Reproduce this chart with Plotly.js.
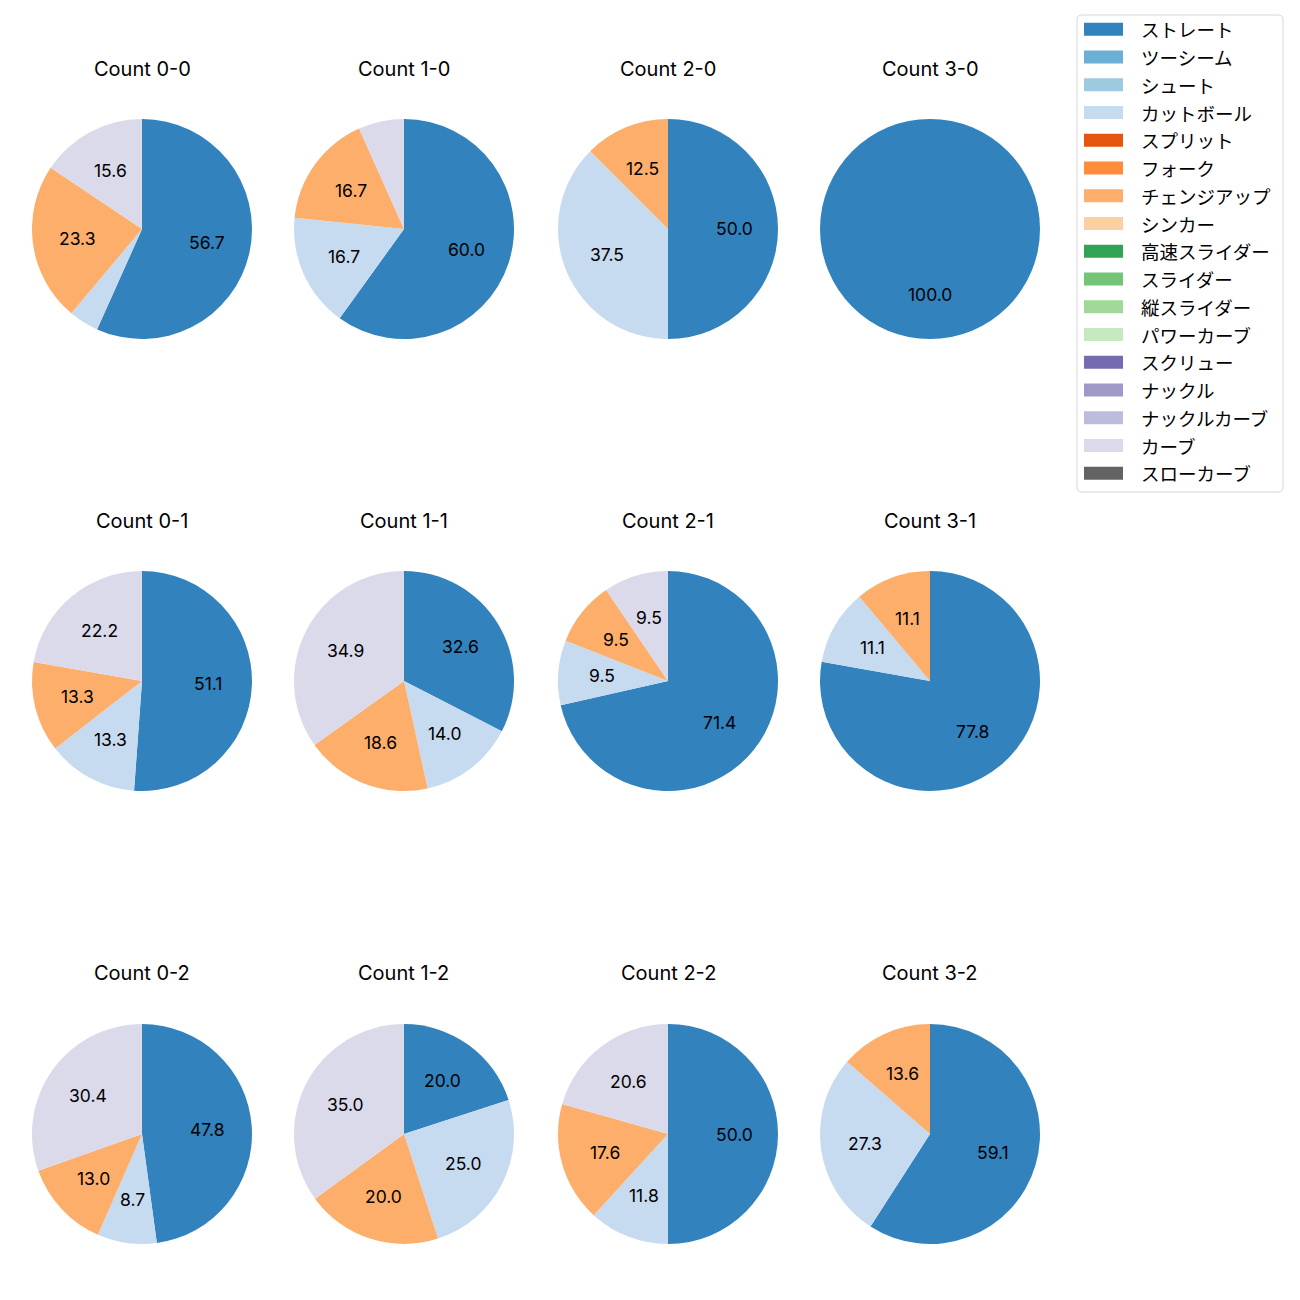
<!DOCTYPE html>
<html>
<head>
<meta charset="utf-8">
<script src="https://cdn.plot.ly/plotly-3.0.1.min.js"></script>
<style>body{margin:0;background:#fff}#chart{width:1300px;height:1300px}</style>
</head>
<body>
<div id="chart"></div>
<script>
// Pitch types (legend order) and colours
const pitchTypes = ["ストレート","ツーシーム","シュート","カットボール","スプリット","フォーク","チェンジアップ","シンカー","高速スライダー","スライダー","縦スライダー","パワーカーブ","スクリュー","ナックル","ナックルカーブ","カーブ","スローカーブ"];
const pitchColors = ["#3182bd","#6baed6","#9ecae1","#c6dbef","#e6550d","#fd8d3c","#fdae6b","#fdd0a2","#31a354","#74c476","#a1d99b","#c7e9c0","#756bb1","#9e9ac8","#bcbddc","#dadaeb","#636363"];

// Counts (row-major: balls-strikes)
const counts = ["0-0","1-0","2-0","3-0","0-1","1-1","2-1","3-1","0-2","1-2","2-2","3-2"];

// Percentages per count (same order as counts)
const straight = [56.7, 60.0, 50.0, 100.0, 51.1, 32.6, 71.4, 77.8, 47.8, 20.0, 50.0, 59.1];
const cutball  = [4.4, 16.7, 37.5, 0, 13.3, 14.0, 9.5, 11.1, 8.7, 25.0, 11.8, 27.3];
const changeup = [23.3, 16.7, 12.5, 0, 13.3, 18.6, 9.5, 11.1, 13.0, 20.0, 17.6, 13.6];
const curve    = [15.6, 6.7, 0, 0, 22.2, 34.9, 9.5, 0, 30.4, 35.0, 20.6, 0];

const W = 1300, H = 1300;
const colCenters = [142, 404, 668, 930];
const rowCenters = [229, 681, 1134];
const R = 110;
const LATIN = 'Inter, "Noto Sans CJK JP", sans-serif';
const JP = '"Noto Sans CJK JP", sans-serif';

const seriesByType = {"ストレート": straight, "カットボール": cutball, "チェンジアップ": changeup, "カーブ": curve};

const data = [];
const annotations = [];
const shapes = [];

counts.forEach((c, i) => {
  const cx = colCenters[i % 4], cy = rowCenters[Math.floor(i / 4)];
  const vals = pitchTypes.map(p => seriesByType[p] ? seriesByType[p][i] : 0);
  data.push({
    type: 'pie', labels: pitchTypes, values: vals, sort: false,
    direction: 'clockwise', rotation: 0,
    marker: {colors: pitchColors, line: {width: 0}},
    textinfo: 'none', showlegend: false, hoverinfo: 'label+percent',
    domain: {x: [(cx - R) / W, (cx + R) / W], y: [1 - (cy + R) / H, 1 - (cy - R) / H]}
  });
  annotations.push({
    text: 'Count ' + c, xref: 'paper', yref: 'paper', x: cx / W, y: 1 - 69 / H - Math.floor(i / 4) * 452 / H,
    xanchor: 'center', yanchor: 'middle', showarrow: false,
    font: {family: LATIN, size: 20, color: '#000'}
  });
  const total = vals.reduce((a, b) => a + b, 0);
  let cum = 0;
  vals.forEach(v => {
    if (v > 0) {
      const mid = (cum + v / 2) / total * 2 * Math.PI;
      if (v >= 8) {
        const px = cx + 0.6 * R * Math.sin(mid);
        const py = cy - 0.6 * R * Math.cos(mid);
        annotations.push({
          text: v.toFixed(1), xref: 'paper', yref: 'paper',
          x: px / W, y: 1 - py / H, xanchor: 'center', yanchor: 'middle', showarrow: false,
          font: {family: LATIN, size: 17.5, color: '#000'}
        });
      }
    }
    cum += v;
  });
});

// Legend (built from the pitch type arrays)
const LX0 = 1077, LX1 = 1283, LY0 = 15, LY1 = 492, rr = 5;
const lp = (x, y) => (x / W) + ',' + (1 - y / H);
shapes.push({
  type: 'path', xref: 'paper', yref: 'paper',
  path: 'M' + lp(LX0 + rr, LY0) + ' L' + lp(LX1 - rr, LY0) + ' Q' + lp(LX1, LY0) + ' ' + lp(LX1, LY0 + rr) +
        ' L' + lp(LX1, LY1 - rr) + ' Q' + lp(LX1, LY1) + ' ' + lp(LX1 - rr, LY1) +
        ' L' + lp(LX0 + rr, LY1) + ' Q' + lp(LX0, LY1) + ' ' + lp(LX0, LY1 - rr) +
        ' L' + lp(LX0, LY0 + rr) + ' Q' + lp(LX0, LY0) + ' ' + lp(LX0 + rr, LY0) + ' Z',
  line: {color: '#d6d6d6', width: 1}, fillcolor: 'rgba(255,255,255,0.8)'
});
pitchTypes.forEach((p, k) => {
  const yc = 29.3 + k * 27.75;
  shapes.push({
    type: 'rect', xref: 'paper', yref: 'paper',
    x0: 1084 / W, x1: 1123 / W, y0: 1 - (yc + 6.5) / H, y1: 1 - (yc - 6.5) / H,
    line: {width: 0}, fillcolor: pitchColors[k]
  });
  annotations.push({
    text: p, xref: 'paper', yref: 'paper', x: 1139 / W, y: 1 - yc / H,
    xanchor: 'left', yanchor: 'middle', showarrow: false,
    font: {family: JP, size: 18.5, color: '#000'}
  });
});

const layout = {
  width: W, height: H, margin: {l: 0, r: 0, t: 0, b: 0},
  paper_bgcolor: '#fff', plot_bgcolor: '#fff', showlegend: false,
  font: {family: LATIN},
  annotations: annotations, shapes: shapes
};
Plotly.newPlot('chart', data, layout, {staticPlot: true});
</script>
</body>
</html>
